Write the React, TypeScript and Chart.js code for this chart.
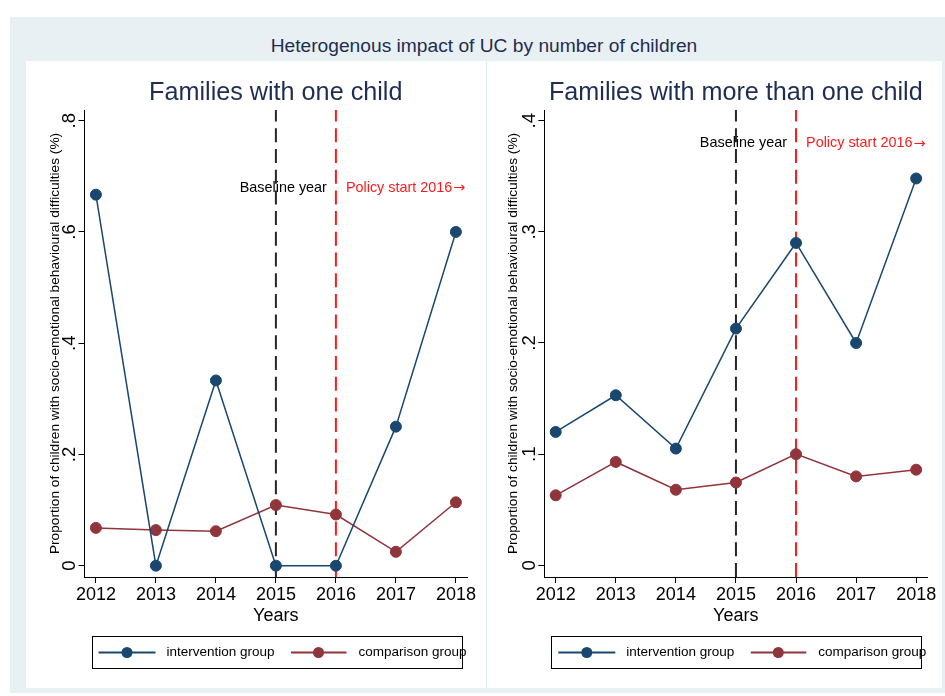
import React, { useEffect, useRef } from "react";
import { Chart, registerables } from "chart.js";

Chart.register(...registerables);

// ---------- data ----------
const years = [2012, 2013, 2014, 2015, 2016, 2017, 2018];

const oneChildIntervention = [0.667, 0, 0.333, 0, 0, 0.25, 0.6];
const oneChildComparison = [0.068, 0.064, 0.062, 0.109, 0.092, 0.025, 0.114];

const multiChildIntervention = [0.12, 0.153, 0.105, 0.213, 0.29, 0.2, 0.348];
const multiChildComparison = [0.063, 0.093, 0.068, 0.0745, 0.1, 0.08, 0.086];

const oneChildYTicks = [0, 0.2, 0.4, 0.6, 0.8];
const oneChildYLabels = ["0", ".2", ".4", ".6", ".8"];
const multiChildYTicks = [0, 0.1, 0.2, 0.3, 0.4];
const multiChildYLabels = ["0", ".1", ".2", ".3", ".4"];

const baselineYear = 2015;
const policyYear = 2016;

const mainTitle = "Heterogenous impact of UC by number of children";
const panelTitles = ["Families with one child", "Families with more than one child"];
const seriesNames = ["intervention group", "comparison group"];
const yTitle = "Proportion of children with socio-emotional behavioural difficulties (%)";
const xTitle = "Years";
const baselineLabel = "Baseline year";
const policyLabel = "Policy start 2016\u2192";

// ---------- styles ----------
const FONT = '"Liberation Sans", Arial, Helvetica, sans-serif';
const NAVY = "#1a476f";
const MAROON = "#90353b";
const TITLE_COLOR = "#1f2d52";

type PanelProps = {
  left: number;
  width: number;
  title: string;
  inter: number[];
  comp: number[];
  yTicks: number[];
  yLabels: string[];
  yMin: number;
  yMax: number;
  yAxisWidth: number;
  padRight: number;
  yTitlePad: number;
  annotY: number;
};

const HEIGHT = 627;

function Panel(p: PanelProps) {
  const ref = useRef<HTMLCanvasElement | null>(null);

  useEffect(() => {
    if (!ref.current) return;

    const overlay = {
      id: "stataOverlay",
      beforeDatasetsDraw(chart: any) {
        const ctx = chart.ctx;
        const a = chart.chartArea;
        const xs = chart.scales.x;
        const ys = chart.scales.y;
        const xb = xs.getPixelForValue(baselineYear);
        const xp = xs.getPixelForValue(policyYear);
        const ty = ys.getPixelForValue(p.annotY);
        ctx.save();
        ctx.font = `14.4px ${FONT}`;
        ctx.textBaseline = "middle";
        ctx.textAlign = "right";
        ctx.fillStyle = "#000";
        ctx.fillText(baselineLabel, xp - 9, ty);
        ctx.textAlign = "left";
        ctx.fillStyle = "#ff1a1a";
        // text part, then the arrow glyph from a font with a larger arrow
        const chars = Array.from(policyLabel);
        const arrow = chars[chars.length - 1];
        const body = chars.slice(0, -1).join("");
        ctx.fillText(body, xp + 10, ty);
        const w = ctx.measureText(body).width;
        ctx.font = `14.4px "DejaVu Sans", sans-serif`;
        ctx.fillText(arrow, xp + 10 + w + 1, ty + 0.5);
        ctx.lineWidth = 2;
        ctx.setLineDash([14, 6.7]);
        ctx.strokeStyle = "#262626";
        ctx.beginPath();
        ctx.moveTo(xb, a.bottom);
        ctx.lineTo(xb, a.top);
        ctx.stroke();
        ctx.strokeStyle = "#ff1a1a";
        ctx.beginPath();
        ctx.moveTo(xp, a.bottom);
        ctx.lineTo(xp, a.top);
        ctx.stroke();
        ctx.restore();
      },
      afterDraw(chart: any) {
        const ctx = chart.ctx;
        const a = chart.chartArea;
        const ys = chart.scales.y;
        ctx.save();
        // y tick labels (rotated)
        ctx.font = `18.5px ${FONT}`;
        ctx.fillStyle = "#000";
        ctx.textAlign = "center";
        ctx.textBaseline = "middle";
        ys.ticks.forEach((t: any) => {
          const py = ys.getPixelForValue(t.value);
          ctx.save();
          ctx.translate(a.left - 14.5, py);
          ctx.rotate(-Math.PI / 2);
          ctx.fillText(t.label, 0, 0);
          ctx.restore();
        });
        // panel title
        ctx.font = `25.2px ${FONT}`;
        ctx.fillStyle = TITLE_COLOR;
        ctx.fillText(p.title, (a.left + a.right) / 2, 32);
        // legend
        const bx = a.left + 7;
        const bw = a.right - 6 - bx;
        const by = 575;
        const bh = 32;
        ctx.lineWidth = 1;
        ctx.strokeStyle = "#000";
        ctx.strokeRect(Math.round(bx) + 0.5, by + 0.5, Math.round(bw), bh);
        const cy = by + bh / 2 + 0.5;
        const items = [
          { name: seriesNames[0], color: NAVY, l0: 7, l1: 64, m: 35.5, t: 75 },
          { name: seriesNames[1], color: MAROON, l0: 199.5, l1: 255, m: 227, t: 267 },
        ];
        items.forEach((it) => {
          ctx.strokeStyle = it.color;
          ctx.lineWidth = 2;
          ctx.beginPath();
          ctx.moveTo(bx + it.l0, cy);
          ctx.lineTo(bx + it.l1, cy);
          ctx.stroke();
          ctx.fillStyle = it.color;
          ctx.beginPath();
          ctx.arc(bx + it.m, cy, 5.5, 0, Math.PI * 2);
          ctx.fill();
          ctx.fillStyle = "#000";
          ctx.font = `13.5px ${FONT}`;
          ctx.textAlign = "left";
          ctx.fillText(it.name, bx + it.t, cy);
        });
        ctx.restore();
      },
    };

    const mk = (vals: number[]) => years.map((x, i) => ({ x, y: vals[i] }));

    const chart = new Chart(ref.current, {
      type: "line",
      data: {
        datasets: [
          {
            label: seriesNames[0],
            data: mk(p.inter),
            borderColor: NAVY,
            backgroundColor: NAVY,
            pointBackgroundColor: NAVY,
            pointBorderColor: NAVY,
            pointRadius: 5.5,
            pointHoverRadius: 5.5,
            pointBorderWidth: 1,
            borderWidth: 1.5,
            tension: 0,
          },
          {
            label: seriesNames[1],
            data: mk(p.comp),
            borderColor: MAROON,
            backgroundColor: MAROON,
            pointBackgroundColor: MAROON,
            pointBorderColor: MAROON,
            pointRadius: 5.5,
            pointHoverRadius: 5.5,
            pointBorderWidth: 1,
            borderWidth: 1.5,
            tension: 0,
          },
        ],
      },
      options: {
        animation: false,
        responsive: false,
        maintainAspectRatio: false,
        devicePixelRatio: 1,
        events: [],
        layout: { padding: { left: 0, right: p.padRight, top: 49, bottom: 0 } },
        plugins: { legend: { display: false }, tooltip: { enabled: false }, title: { display: false } },
        scales: {
          x: {
            type: "linear",
            min: 2011.81,
            max: 2018.185,
            afterBuildTicks: (s: any) => {
              s.ticks = years.map((v) => ({ value: v }));
            },
            afterFit: (s: any) => {
              s.height = 111;
            },
            ticks: {
              font: { size: 18, family: FONT },
              color: "#000",
              padding: 1,
              maxRotation: 0,
              minRotation: 0,
              autoSkip: false,
              callback: (v: any) => String(v),
            },
            grid: { drawOnChartArea: false, drawTicks: true, tickLength: 6, color: "#000", lineWidth: 1 },
            border: { display: true, color: "#000", width: 1 },
            title: {
              display: true,
              text: xTitle,
              font: { size: 18, family: FONT },
              color: "#000",
              padding: { top: 0, bottom: 61.2 },
            },
          },
          y: {
            type: "linear",
            min: p.yMin,
            max: p.yMax,
            afterBuildTicks: (s: any) => {
              s.ticks = p.yTicks.map((v) => ({ value: v }));
            },
            afterFit: (s: any) => {
              s.width = p.yAxisWidth;
            },
            ticks: {
              display: false,
              callback: (_v: any, i: number) => p.yLabels[i],
            },
            grid: { drawOnChartArea: false, drawTicks: true, tickLength: 6, color: "#000", lineWidth: 1 },
            border: { display: true, color: "#000", width: 1 },
            title: {
              display: true,
              text: yTitle,
              font: { size: 13.7, family: FONT },
              color: "#000",
              padding: { top: p.yTitlePad, bottom: 0 },
            },
          },
        },
      } as any,
      plugins: [overlay],
    });

    return () => chart.destroy();
  }, []);

  return (
    <div style={{ position: "absolute", left: p.left, top: 61, width: p.width, height: HEIGHT }}>
      <canvas ref={ref} width={p.width} height={HEIGHT} style={{ width: p.width, height: HEIGHT, display: "block" }} />
    </div>
  );
}

export default function App() {
  return (
    <div style={{ position: "absolute", left: 0, top: 0, width: 945, height: 696, background: "#fff", overflow: "hidden" }}>
      <div style={{ position: "absolute", left: 10, top: 17, width: 935, height: 676, background: "#e8f0f3" }} />
      <div style={{ position: "absolute", left: 26, top: 61, width: 916, height: 627, background: "#fff" }} />
      <div
        style={{
          position: "absolute",
          left: 26,
          top: 35,
          width: 916,
          height: 22,
          lineHeight: "22px",
          textAlign: "center",
          fontFamily: FONT,
          fontSize: 19.2,
          color: TITLE_COLOR,
          whiteSpace: "nowrap",
        }}
      >
        {mainTitle}
      </div>
      <Panel
        left={26}
        width={460}
        title={panelTitles[0]}
        inter={oneChildIntervention}
        comp={oneChildComparison}
        yTicks={oneChildYTicks}
        yLabels={oneChildYLabels}
        yMin={-0.0203}
        yMax={0.8192}
        yAxisWidth={58.5}
        padRight={19}
        yTitlePad={20.9}
        annotY={0.679}
      />
      <div style={{ position: "absolute", left: 486, top: 61, width: 1, height: 627, background: "#e2ebee" }} />
      <Panel
        left={487}
        width={455}
        title={panelTitles[1]}
        inter={multiChildIntervention}
        comp={multiChildComparison}
        yTicks={multiChildYTicks}
        yLabels={multiChildYLabels}
        yMin={-0.0105}
        yMax={0.4096}
        yAxisWidth={57.3}
        padRight={14.7}
        yTitlePad={18.4}
        annotY={0.3795}
      />
    </div>
  );
}
